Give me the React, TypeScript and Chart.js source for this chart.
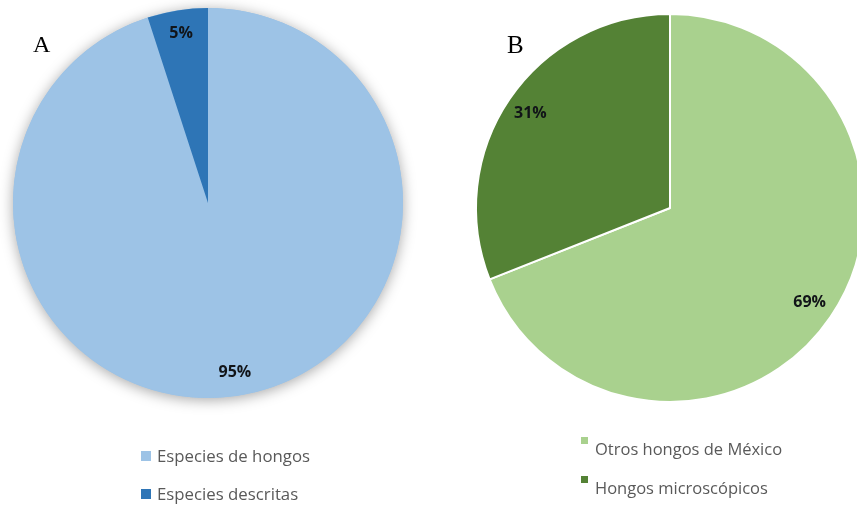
import { useEffect, useRef } from 'react';
import { Chart, PieController, ArcElement } from 'chart.js';

Chart.register(PieController, ArcElement);

// Panel A: share of described fungal species
const speciesLabels = ['Especies de hongos', 'Especies descritas'];
const speciesValues = [95, 5];
const speciesColors = ['#9DC3E6', '#2E75B6'];

// Panel B: microscopic fungi among fungi of Mexico
const mexicoLabels = ['Otros hongos de México', 'Hongos microscópicos'];
const mexicoValues = [69, 31];
const mexicoColors = ['#A9D18E', '#548235'];

const panelTags = ['A', 'B'];

const LABEL_FONT = '"Open Sans", "Noto Sans", sans-serif';

// Soft drop shadow behind the whole pie
const pieShadow = {
  id: 'pieShadow',
  beforeDatasetsDraw(chart: any, _args: any, opts: any) {
    if (!opts || !opts.enabled) return;
    const arc = chart.getDatasetMeta(0).data[0];
    if (!arc) return;
    const { x, y, outerRadius } = arc.getProps(['x', 'y', 'outerRadius'], true);
    const ctx = chart.ctx;
    ctx.save();
    ctx.shadowColor = opts.color;
    ctx.shadowBlur = opts.blur;
    ctx.shadowOffsetX = 0;
    ctx.shadowOffsetY = opts.offsetY;
    ctx.beginPath();
    ctx.arc(x, y, outerRadius, 0, Math.PI * 2);
    ctx.fillStyle = opts.fill;
    ctx.fill();
    ctx.restore();
  },
};

// Percentage text inside each slice, along its bisector
const sliceLabels = {
  id: 'sliceLabels',
  afterDatasetsDraw(chart: any, _args: any, opts: any) {
    const meta = chart.getDatasetMeta(0);
    const values = chart.data.datasets[0].data as number[];
    const ctx = chart.ctx;
    ctx.save();
    ctx.font = `bold ${opts.size}px ${LABEL_FONT}`;
    ctx.fillStyle = opts.color;
    ctx.textAlign = 'center';
    ctx.textBaseline = 'middle';
    meta.data.forEach((arc: any, i: number) => {
      const { x, y, startAngle, endAngle, outerRadius } = arc.getProps(
        ['x', 'y', 'startAngle', 'endAngle', 'outerRadius'],
        true
      );
      const mid = (startAngle + endAngle) / 2;
      const r = outerRadius * opts.radiusRatio;
      ctx.fillText(`${values[i]}%`, x + Math.cos(mid) * r, y + Math.sin(mid) * r);
    });
    ctx.restore();
  },
};

// Vertical legend below the pie
const stackedLegend = {
  id: 'stackedLegend',
  afterDraw(chart: any, _args: any, opts: any) {
    const labels = chart.data.labels as string[];
    const colors = chart.data.datasets[0].backgroundColor as string[];
    const ctx = chart.ctx;
    ctx.save();
    ctx.font = `${opts.size}px ${LABEL_FONT}`;
    ctx.textAlign = 'left';
    ctx.textBaseline = 'alphabetic';
    labels.forEach((label, i) => {
      const base = opts.baseline + i * opts.rowGap;
      ctx.fillStyle = colors[i];
      ctx.fillRect(opts.x, base + opts.boxOffsetY, opts.box, opts.box);
      ctx.fillStyle = opts.color;
      ctx.fillText(label, opts.textX, base);
    });
    ctx.restore();
  },
};

// Panel letter in the upper-left corner
const panelTag = {
  id: 'panelTag',
  afterDraw(chart: any, _args: any, opts: any) {
    const ctx = chart.ctx;
    ctx.save();
    ctx.font = `${opts.size}px "Liberation Serif", "DejaVu Serif", serif`;
    ctx.fillStyle = '#000';
    ctx.textAlign = 'left';
    ctx.textBaseline = 'alphabetic';
    ctx.fillText(opts.text, opts.x, opts.y);
    ctx.restore();
  },
};

function PieA() {
  const ref = useRef<HTMLCanvasElement>(null);
  useEffect(() => {
    if (!ref.current) return;
    const chart = new Chart(ref.current, {
      type: 'pie',
      data: {
        labels: speciesLabels,
        datasets: [
          {
            data: speciesValues,
            backgroundColor: speciesColors,
            borderWidth: 0,
            hoverBorderWidth: 0,
          },
        ],
      },
      options: {
        responsive: false,
        animation: false,
        events: [],
        layout: { padding: { left: 13, top: 8, right: 25, bottom: 122 } },
        plugins: {
          pieShadow: { enabled: true, color: 'rgba(0,0,0,0.35)', blur: 14, offsetY: 2, fill: speciesColors[0] },
          sliceLabels: { size: 16, color: '#111418', radiusRatio: 0.88 },
          stackedLegend: {
            x: 141, textX: 157, baseline: 462, rowGap: 38,
            box: 10, boxOffsetY: -11, size: 16.8, color: '#595959',
          },
          panelTag: { text: panelTags[0], x: 33, y: 52, size: 24 },
        } as any,
      },
      plugins: [pieShadow, sliceLabels, stackedLegend, panelTag] as any,
    });
    return () => chart.destroy();
  }, []);
  return (
    <canvas
      ref={ref}
      width={428}
      height={520}
      style={{ position: 'absolute', left: 0, top: 0, width: 428, height: 520 }}
    />
  );
}

function PieB() {
  const ref = useRef<HTMLCanvasElement>(null);
  useEffect(() => {
    if (!ref.current) return;
    const chart = new Chart(ref.current, {
      type: 'pie',
      data: {
        labels: mexicoLabels,
        datasets: [
          {
            data: mexicoValues,
            backgroundColor: mexicoColors,
            borderColor: '#ffffff',
            borderWidth: 2,
            hoverBorderWidth: 2,
          },
        ],
      },
      options: {
        responsive: false,
        animation: false,
        events: [],
        layout: { padding: { left: 47, top: 13, right: 3, bottom: 117 } },
        plugins: {
          pieShadow: { enabled: false },
          sliceLabels: { size: 16, color: '#111418', radiusRatio: 0.87 },
          stackedLegend: {
            x: 153, textX: 167, baseline: 455, rowGap: 39,
            box: 7, boxOffsetY: -18, size: 16.5, color: '#595959',
          },
          panelTag: { text: panelTags[1], x: 79, y: 53, size: 25 },
        } as any,
      },
      plugins: [pieShadow, sliceLabels, stackedLegend, panelTag] as any,
    });
    return () => chart.destroy();
  }, []);
  return (
    <canvas
      ref={ref}
      width={440}
      height={520}
      style={{ position: 'absolute', left: 428, top: 0, width: 440, height: 520 }}
    />
  );
}

export default function App() {
  return (
    <div
      style={{
        position: 'fixed',
        left: 0,
        top: 0,
        width: 857,
        height: 520,
        overflow: 'hidden',
        background: '#ffffff',
      }}
    >
      <PieA />
      <PieB />
    </div>
  );
}
